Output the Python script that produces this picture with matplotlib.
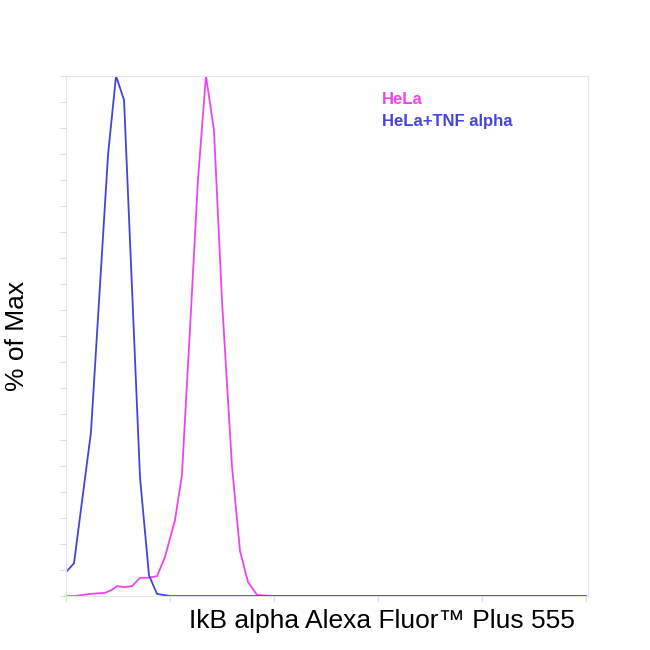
import matplotlib
matplotlib.use("Agg")
import matplotlib.pyplot as plt
import numpy as np

plt.rcParams['font.family'] = ['Liberation Sans', 'DejaVu Sans']

# pixel-read values converted to axis units (x: 0..5, y: % of max)
tnf_x = [0.0, 0.077, 0.24, 0.404, 0.481, 0.558, 0.712, 0.798, 0.875, 1.0, 5.0]
tnf_y = [4.6, 6.3, 31.5, 84.8, 100.0, 95.4, 22.7, 4.0, 0.4, 0.0, 0.0]
hela_x = [0.0, 0.087, 0.231, 0.375, 0.442, 0.49, 0.558, 0.635, 0.712, 0.788, 0.875,
          0.952, 1.048, 1.115, 1.192, 1.269, 1.346, 1.423, 1.5, 1.596, 1.673, 1.75, 1.837, 1.962, 5.0]
hela_y = [0.0, 0.0, 0.4, 0.6, 1.2, 1.9, 1.7, 1.9, 3.5, 3.5, 3.8, 7.5, 14.6, 23.3, 51.2,
          80.0, 100.0, 89.6, 56.9, 25.0, 8.7, 2.7, 0.2, 0.0, 0.0]

fig = plt.figure(figsize=(6.5, 6.5), dpi=100)
ax = fig.add_axes([66/650, 1-596/650, 522/650, 520/650])
ax.plot(hela_x, hela_y, color="#ee44ee", lw=1.3)
ax.plot(tnf_x, tnf_y, color="#4444dd", lw=1.3)
ax.set_xlim(0, 5.02)
ax.set_ylim(0, 100)
for s in ax.spines.values():
    s.set_color("#e6e6e6")
ax.set_xticks(np.arange(0, 6, 1))
ax.set_yticks(np.arange(0, 101, 5))
ax.tick_params(colors="#dddddd", labelbottom=False, labelleft=False, length=4)
ax.set_xlabel("IkB alpha Alexa Fluor™ Plus 555", fontsize=19, loc="right", labelpad=6)
ax.xaxis.set_label_coords(0.975, -0.025, transform=ax.transAxes)
ax.xaxis.label.set_va("top")
ax.set_ylabel("% of Max", fontsize=19)
ax.yaxis.set_label_coords(-0.07, 0.5)
ax.text(0.605, 0.947, "HeLa", color="#ee44ee", fontsize=12, fontweight="bold", transform=ax.transAxes)
ax.text(0.605, 0.903, "HeLa+TNF alpha", color="#4444dd", fontsize=12, fontweight="bold", transform=ax.transAxes)
fig.savefig("out.png")
